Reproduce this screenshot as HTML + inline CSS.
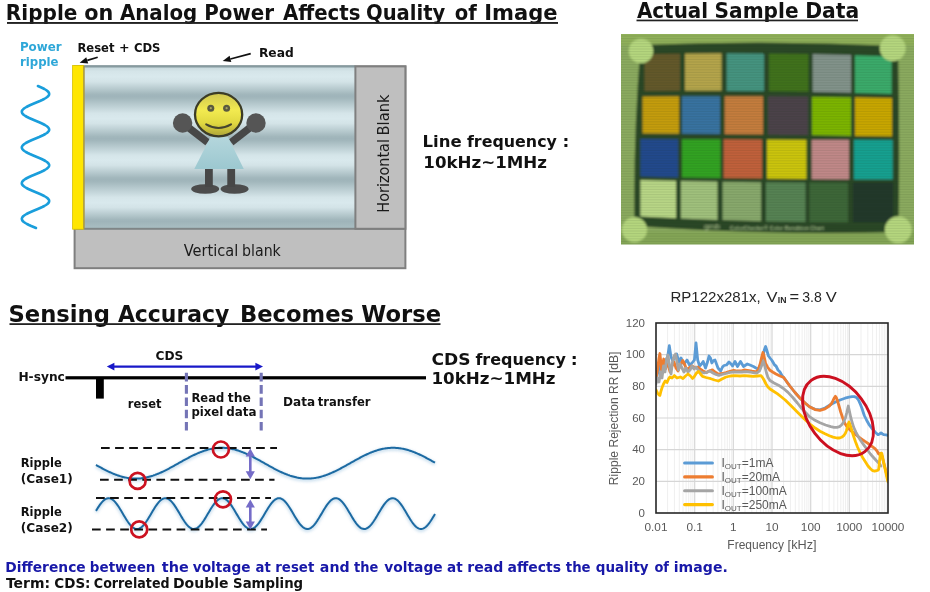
<!DOCTYPE html>
<html lang="en"><head><meta charset="utf-8"><title>Ripple on Analog Power Affects Quality of Image</title>
<style>
html,body{margin:0;padding:0;background:#fff;}
body{width:930px;height:592px;overflow:hidden;}
svg{display:block;}
</style></head><body>
<svg width="930" height="592" viewBox="0 0 930 592">
<defs>
<linearGradient id="stripes" x1="0" y1="0" x2="0" y2="1">
<stop offset="0.0000" stop-color="#c3d5d9"/>
<stop offset="0.0370" stop-color="#d5e5e9"/>
<stop offset="0.0679" stop-color="#d9e9ed"/>
<stop offset="0.0988" stop-color="#d3e3e7"/>
<stop offset="0.1753" stop-color="#a2b7bc"/>
<stop offset="0.1877" stop-color="#9fb4ba"/>
<stop offset="0.2000" stop-color="#a2b7bc"/>
<stop offset="0.2932" stop-color="#d5e5e9"/>
<stop offset="0.3241" stop-color="#d9e9ed"/>
<stop offset="0.3549" stop-color="#d3e3e7"/>
<stop offset="0.4352" stop-color="#a2b7bc"/>
<stop offset="0.4475" stop-color="#9fb4ba"/>
<stop offset="0.4599" stop-color="#a2b7bc"/>
<stop offset="0.5494" stop-color="#d5e5e9"/>
<stop offset="0.5802" stop-color="#d9e9ed"/>
<stop offset="0.6111" stop-color="#d3e3e7"/>
<stop offset="0.6883" stop-color="#a2b7bc"/>
<stop offset="0.7006" stop-color="#9fb4ba"/>
<stop offset="0.7130" stop-color="#a2b7bc"/>
<stop offset="0.8086" stop-color="#d5e5e9"/>
<stop offset="0.8395" stop-color="#d9e9ed"/>
<stop offset="0.8704" stop-color="#d3e3e7"/>
<stop offset="0.9444" stop-color="#a2b7bc"/>
<stop offset="0.9568" stop-color="#9fb4ba"/>
<stop offset="0.9691" stop-color="#a2b7bc"/>
<stop offset="1.0000" stop-color="#aabfc4"/>
</linearGradient>
<linearGradient id="face" x1="0" y1="0" x2="0" y2="1">
<stop offset="0" stop-color="#cfc750"/><stop offset="0.4" stop-color="#f2ea50"/><stop offset="0.7" stop-color="#e0d840"/><stop offset="1" stop-color="#aca438"/>
</linearGradient>
<linearGradient id="dress" x1="0" y1="0" x2="0" y2="1">
<stop offset="0" stop-color="#b4d6dc"/><stop offset="1" stop-color="#9cc8d0"/>
</linearGradient>
<filter id="glow" x="-10%" y="-50%" width="120%" height="200%"><feGaussianBlur stdDeviation="1.6"/></filter>
<filter id="pblur" x="-5%" y="-5%" width="110%" height="110%"><feGaussianBlur stdDeviation="0.85"/></filter>
<clipPath id="photoclip"><rect x="621" y="34" width="293" height="210.5"/></clipPath>
<clipPath id="plotclip"><rect x="656" y="323" width="232" height="190"/></clipPath>
</defs>

<g id="headings">
<text y="19.5" font-size="21.2" font-family="'DejaVu Sans','Liberation Sans',sans-serif" font-weight="bold" fill="#111" xml:space="preserve" ><tspan x="5.79" textLength="71.62" lengthAdjust="spacingAndGlyphs">Ripple</tspan> <tspan x="84.17" textLength="29.07" lengthAdjust="spacingAndGlyphs">on</tspan> <tspan x="119.90" textLength="77.41" lengthAdjust="spacingAndGlyphs">Analog</tspan> <tspan x="204.21" textLength="69.89" lengthAdjust="spacingAndGlyphs">Power</tspan> <tspan x="282.90" textLength="77.55" lengthAdjust="spacingAndGlyphs">Affects</tspan> <tspan x="366.02" textLength="79.32" lengthAdjust="spacingAndGlyphs">Quality</tspan> <tspan x="454.81" textLength="22.03" lengthAdjust="spacingAndGlyphs">of</tspan> <tspan x="484.17" textLength="73.39" lengthAdjust="spacingAndGlyphs">Image</tspan></text>
<rect x="7" y="22" width="551" height="1.9" fill="#222"/>
<text y="17.6" font-size="21.2" font-family="'DejaVu Sans','Liberation Sans',sans-serif" font-weight="bold" fill="#111" xml:space="preserve" ><tspan x="636.90" textLength="71.18" lengthAdjust="spacingAndGlyphs">Actual</tspan> <tspan x="714.59" textLength="83.99" lengthAdjust="spacingAndGlyphs">Sample</tspan> <tspan x="805.17" textLength="54.01" lengthAdjust="spacingAndGlyphs">Data</tspan></text>
<rect x="636.5" y="19.6" width="221.5" height="1.7" fill="#222"/>
<text y="321.8" font-size="23.8" font-family="'DejaVu Sans','Liberation Sans',sans-serif" font-weight="bold" fill="#111" xml:space="preserve" ><tspan x="8.41" textLength="101.54" lengthAdjust="spacingAndGlyphs">Sensing</tspan> <tspan x="117.89" textLength="111.53" lengthAdjust="spacingAndGlyphs">Accuracy</tspan> <tspan x="239.96" textLength="114.07" lengthAdjust="spacingAndGlyphs">Becomes</tspan> <tspan x="361.32" textLength="79.72" lengthAdjust="spacingAndGlyphs">Worse</tspan></text>
<rect x="9.5" y="323.2" width="431" height="1.8" fill="#222"/>
</g>
<g id="frame">
<rect x="74.6" y="66.4" width="330.8" height="201.8" fill="#bfbfbf" stroke="#7f7f7f" stroke-width="2"/>
<rect x="84" y="65.6" width="271.5" height="163" fill="url(#stripes)"/>
<rect x="84" y="65.3" width="271.5" height="2.2" fill="#869a9f"/>
<rect x="75.5" y="227.8" width="329" height="2" fill="#7f8587"/>
<rect x="355.4" y="66.4" width="50" height="162.4" fill="#bfbfbf" stroke="#7f7f7f" stroke-width="2"/>
<rect x="72.6" y="65.4" width="11" height="163.8" fill="#ffe600"/>
<rect x="72.6" y="65.4" width="11" height="163.8" fill="none" stroke="#d8c000" stroke-width="0.8"/>
<rect x="83" y="66" width="2" height="162.5" fill="#a89a48" opacity="0.75"/>
<text y="255.8" font-size="15.4" font-family="'DejaVu Sans','Liberation Sans',sans-serif" fill="#1a1a1a" xml:space="preserve" ><tspan x="183.65" textLength="54.61" lengthAdjust="spacingAndGlyphs">Vertical</tspan> <tspan x="242.02" textLength="38.82" lengthAdjust="spacingAndGlyphs">blank</tspan></text>
<text y="0" font-size="15.4" font-family="'DejaVu Sans','Liberation Sans',sans-serif" fill="#1a1a1a" xml:space="preserve" transform="translate(388.6,300) rotate(-90)" ><tspan x="87.36" textLength="73.55" lengthAdjust="spacingAndGlyphs">Horizontal</tspan> <tspan x="164.53" textLength="40.94" lengthAdjust="spacingAndGlyphs">Blank</tspan></text>
</g>
<g id="figure">
<ellipse cx="205.2" cy="189" rx="14" ry="4.8" fill="#4c4c4c"/>
<ellipse cx="234.6" cy="189" rx="14" ry="4.8" fill="#4c4c4c"/>
<rect x="205" y="168" width="7.8" height="19" fill="#474747"/>
<rect x="227.3" y="168" width="7.8" height="19" fill="#474747"/>
<line x1="182.6" y1="123" x2="207.6" y2="142.4" stroke="#474747" stroke-width="7.4"/>
<line x1="256" y1="123" x2="231.2" y2="142.4" stroke="#474747" stroke-width="7.4"/>
<circle cx="182.6" cy="123" r="9.7" fill="#555"/>
<circle cx="256" cy="123" r="9.7" fill="#555"/>
<polygon points="210.5,137 228,137 243.8,169 194.3,169" fill="url(#dress)"/>
<ellipse cx="218.6" cy="114.6" rx="23.6" ry="21.7" fill="url(#face)" stroke="#3c3c26" stroke-width="2.3"/>
<circle cx="210.8" cy="108.2" r="3.5" fill="#5a5a40"/>
<circle cx="226.6" cy="108.2" r="3.5" fill="#5a5a40"/>
<circle cx="210.8" cy="108.2" r="1.1" fill="#a8a460"/>
<circle cx="226.6" cy="108.2" r="1.1" fill="#a8a460"/>
<path d="M206.2 124.4 Q218.6 131.6 231 124.4" fill="none" stroke="#45452e" stroke-width="2.1" stroke-linecap="round"/>
</g>
<polyline points="37.9,86.0 40.2,87.0 42.4,88.0 44.4,89.0 46.1,90.0 47.4,91.0 48.4,92.0 49.0,93.0 49.2,94.0 49.0,95.0 48.3,96.0 47.2,97.0 45.8,98.0 44.1,99.0 42.1,100.0 39.9,101.0 37.5,102.0 35.1,103.0 32.7,104.0 30.4,105.0 28.3,106.0 26.4,107.0 24.7,108.0 23.4,109.0 22.5,110.0 21.9,111.0 21.8,112.0 22.1,113.0 22.8,114.0 23.9,115.0 25.4,116.0 27.2,117.0 29.2,118.0 31.5,119.0 33.8,120.0 36.2,121.0 38.6,122.0 40.9,123.0 43.0,124.0 44.9,125.0 46.5,126.0 47.8,127.0 48.6,128.0 49.1,129.0 49.2,130.0 48.8,131.0 48.0,132.0 46.9,133.0 45.3,134.0 43.5,135.0 41.4,136.0 39.2,137.0 36.8,138.0 34.4,139.0 32.0,140.0 29.8,141.0 27.7,142.0 25.8,143.0 24.3,144.0 23.1,145.0 22.3,146.0 21.8,147.0 21.9,148.0 22.3,149.0 23.1,150.0 24.4,151.0 25.9,152.0 27.8,153.0 29.9,154.0 32.2,155.0 34.5,156.0 36.9,157.0 39.3,158.0 41.6,159.0 43.6,160.0 45.4,161.0 46.9,162.0 48.1,163.0 48.8,164.0 49.2,165.0 49.1,166.0 48.6,167.0 47.7,168.0 46.4,169.0 44.8,170.0 42.9,171.0 40.8,172.0 38.5,173.0 36.1,174.0 33.7,175.0 31.3,176.0 29.1,177.0 27.1,178.0 25.3,179.0 23.9,180.0 22.8,181.0 22.1,182.0 21.8,183.0 21.9,184.0 22.5,185.0 23.5,186.0 24.8,187.0 26.4,188.0 28.4,189.0 30.6,190.0 32.9,191.0 35.3,192.0 37.7,193.0 40.0,194.0 42.2,195.0 44.2,196.0 45.9,197.0 47.3,198.0 48.3,199.0 49.0,200.0 49.2,201.0 49.0,202.0 48.4,203.0 47.4,204.0 46.0,205.0 44.3,206.0 42.3,207.0 40.1,208.0 37.8,209.0 35.4,210.0 33.0,211.0 30.7,212.0 28.5,213.0 26.5,214.0 24.9,215.0 23.5,216.0 22.5,217.0 22.0,218.0 21.8,219.0 22.1,220.0 22.7,221.0 23.8,222.0 25.3,223.0 27.0,224.0 29.0,225.0 31.2,226.0 33.6,227.0 36.0,228.0" fill="none" stroke="#1a9edb" stroke-width="2.6" stroke-linecap="round" stroke-linejoin="round"/>
<text y="51.2" font-size="12.3" font-family="'DejaVu Sans','Liberation Sans',sans-serif" font-weight="bold" fill="#2ea7d8" xml:space="preserve" ><tspan x="19.93" textLength="41.73" lengthAdjust="spacingAndGlyphs">Power</tspan></text>
<text y="66" font-size="12.3" font-family="'DejaVu Sans','Liberation Sans',sans-serif" font-weight="bold" fill="#2ea7d8" xml:space="preserve" ><tspan x="20.00" textLength="38.57" lengthAdjust="spacingAndGlyphs">ripple</tspan></text>
<text y="51.9" font-size="12" font-family="'DejaVu Sans','Liberation Sans',sans-serif" font-weight="bold" fill="#111" xml:space="preserve" ><tspan x="77.46" textLength="37.03" lengthAdjust="spacingAndGlyphs">Reset</tspan> <tspan x="119.07" textLength="10.60" lengthAdjust="spacingAndGlyphs">+</tspan> <tspan x="133.92" textLength="26.54" lengthAdjust="spacingAndGlyphs">CDS</tspan></text>
<text y="56.7" font-size="12" font-family="'DejaVu Sans','Liberation Sans',sans-serif" font-weight="bold" fill="#111" xml:space="preserve" ><tspan x="258.90" textLength="34.83" lengthAdjust="spacingAndGlyphs">Read</tspan></text>
<line x1="97.7" y1="57.3" x2="87.3" y2="60.4" stroke="#111" stroke-width="1.7"/>
<polygon points="79.6,62.7 86.3,57.3 88.2,63.6" fill="#111"/>
<line x1="250.7" y1="53.6" x2="230.4" y2="59.0" stroke="#111" stroke-width="1.7"/>
<polygon points="222.7,61.0 229.6,55.8 231.3,62.1" fill="#111"/>
<text y="146.6" font-size="16.5" font-family="'DejaVu Sans','Liberation Sans',sans-serif" font-weight="bold" fill="#111" xml:space="preserve" ><tspan x="422.61" textLength="39.11" lengthAdjust="spacingAndGlyphs">Line</tspan> <tspan x="466.98" textLength="89.92" lengthAdjust="spacingAndGlyphs">frequency</tspan> <tspan x="562.64" textLength="6.81" lengthAdjust="spacingAndGlyphs">:</tspan></text>
<text y="168" font-size="16.5" font-family="'DejaVu Sans','Liberation Sans',sans-serif" font-weight="bold" fill="#111" xml:space="preserve" ><tspan x="423.37" textLength="123.64" lengthAdjust="spacingAndGlyphs">10kHz~1MHz</tspan></text>
<text y="364.8" font-size="16.5" font-family="'DejaVu Sans','Liberation Sans',sans-serif" font-weight="bold" fill="#111" xml:space="preserve" ><tspan x="431.45" textLength="39.02" lengthAdjust="spacingAndGlyphs">CDS</tspan> <tspan x="475.38" textLength="90.52" lengthAdjust="spacingAndGlyphs">frequency</tspan> <tspan x="570.70" textLength="6.91" lengthAdjust="spacingAndGlyphs">:</tspan></text>
<text y="384.2" font-size="16.5" font-family="'DejaVu Sans','Liberation Sans',sans-serif" font-weight="bold" fill="#111" xml:space="preserve" ><tspan x="431.46" textLength="124.15" lengthAdjust="spacingAndGlyphs">10kHz~1MHz</tspan></text>
<g id="photo" clip-path="url(#photoclip)"><g filter="url(#pblur)">
<rect x="611" y="24" width="313" height="231" fill="#8baa5e"/>
<rect x="611" y="24" width="313" height="21" fill="#90b05a"/>
<rect x="611" y="232" width="313" height="23" fill="#84a556"/>
<path d="M640.5 45 Q770 39.5 898 46 Q900 140 898.5 232 Q770 235.5 634.5 226 Q633 140 640.5 45.5 Z" fill="#2b4725"/>
<polygon points="644.5,54.3 680.0,53.7 680.0,90.8 644.5,91.0" fill="#64582a"/>
<polygon points="685.0,53.6 721.6,53.3 721.6,90.8 685.0,90.8" fill="#b4a44c"/>
<polygon points="726.6,53.3 764.0,53.4 764.0,91.2 726.6,90.9" fill="#45937f"/>
<polygon points="769.0,53.5 808.5,54.0 808.5,91.8 769.0,91.2" fill="#3f711c"/>
<polygon points="812.6,54.1 851.0,55.0 851.0,92.8 812.6,91.9" fill="#82928a"/>
<polygon points="855.0,55.2 891.7,56.4 891.7,94.0 855.0,92.9" fill="#3aaa6a"/>
<polygon points="642.5,96.6 679.0,96.3 679.0,133.8 642.5,133.5" fill="#c49c10"/>
<polygon points="682.0,96.3 720.0,96.2 720.0,134.1 682.0,133.8" fill="#3872a0"/>
<polygon points="724.6,96.2 763.0,96.3 763.0,134.6 724.6,134.2" fill="#c47c3e"/>
<polygon points="768.0,96.3 808.0,96.6 808.0,135.2 768.0,134.7" fill="#4c434a"/>
<polygon points="812.0,96.7 851.0,97.2 851.0,135.9 812.0,135.3" fill="#7cb404"/>
<polygon points="855.0,97.3 892.0,98.0 892.0,136.6 855.0,135.9" fill="#c8a606"/>
<polygon points="640.4,139.0 678.0,139.2 678.0,177.4 640.4,176.6" fill="#224a8c"/>
<polygon points="682.0,139.2 720.5,139.3 720.5,178.1 682.0,177.4" fill="#33a222"/>
<polygon points="723.6,139.3 762.0,139.5 762.0,178.6 723.6,178.1" fill="#c0603a"/>
<polygon points="767.0,139.5 806.5,139.7 806.5,179.1 767.0,178.7" fill="#cbc408"/>
<polygon points="811.6,139.7 849.0,139.8 849.0,179.4 811.6,179.2" fill="#c08888"/>
<polygon points="854.0,139.8 892.7,140.0 892.7,179.6 854.0,179.5" fill="#14a090"/>
<polygon points="640.4,180.0 676.0,180.8 676.0,218.3 640.4,216.5" fill="#b8d586"/>
<polygon points="681.0,180.9 717.5,181.6 717.5,220.0 681.0,218.5" fill="#a0c07c"/>
<polygon points="722.6,181.7 761.0,182.2 761.0,221.3 722.6,220.1" fill="#88a86c"/>
<polygon points="766.0,182.2 805.5,182.6 805.5,222.1 766.0,221.4" fill="#578252"/>
<polygon points="809.5,182.6 848.0,182.7 848.0,222.5 809.5,222.2" fill="#3d6638"/>
<polygon points="853.0,182.8 893.0,182.7 893.0,222.5 853.0,222.6" fill="#22382b"/>
<circle cx="641" cy="51" r="12.3" fill="#b5d67e"/>
<circle cx="892.7" cy="48.3" r="13" fill="#b5d67e"/>
<circle cx="634.5" cy="229.7" r="12.6" fill="#b5d67e"/>
<circle cx="898.2" cy="229.7" r="13.4" fill="#b5d67e"/>
<text x="704" y="228.5" font-size="7" font-family="'Liberation Sans',sans-serif" fill="#a9c08c" textLength="16" lengthAdjust="spacingAndGlyphs">gmb</text>
<text x="730" y="229.8" font-size="4.6" font-family="'Liberation Sans',sans-serif" font-weight="bold" fill="#9db585" textLength="94" lengthAdjust="spacingAndGlyphs">ColorChecker® Color Rendition Chart</text>
</g>
<g stroke="#203820" stroke-width="0.6" opacity="0.16">
<line x1="621" y1="36" x2="914" y2="36"/>
<line x1="621" y1="38.6" x2="914" y2="38.6"/>
<line x1="621" y1="41.2" x2="914" y2="41.2"/>
<line x1="621" y1="43.800000000000004" x2="914" y2="43.800000000000004"/>
<line x1="621" y1="46.400000000000006" x2="914" y2="46.400000000000006"/>
<line x1="621" y1="49.00000000000001" x2="914" y2="49.00000000000001"/>
<line x1="621" y1="51.60000000000001" x2="914" y2="51.60000000000001"/>
<line x1="621" y1="54.20000000000001" x2="914" y2="54.20000000000001"/>
<line x1="621" y1="56.80000000000001" x2="914" y2="56.80000000000001"/>
<line x1="621" y1="59.40000000000001" x2="914" y2="59.40000000000001"/>
<line x1="621" y1="62.000000000000014" x2="914" y2="62.000000000000014"/>
<line x1="621" y1="64.60000000000001" x2="914" y2="64.60000000000001"/>
<line x1="621" y1="67.2" x2="914" y2="67.2"/>
<line x1="621" y1="69.8" x2="914" y2="69.8"/>
<line x1="621" y1="72.39999999999999" x2="914" y2="72.39999999999999"/>
<line x1="621" y1="74.99999999999999" x2="914" y2="74.99999999999999"/>
<line x1="621" y1="77.59999999999998" x2="914" y2="77.59999999999998"/>
<line x1="621" y1="80.19999999999997" x2="914" y2="80.19999999999997"/>
<line x1="621" y1="82.79999999999997" x2="914" y2="82.79999999999997"/>
<line x1="621" y1="85.39999999999996" x2="914" y2="85.39999999999996"/>
<line x1="621" y1="87.99999999999996" x2="914" y2="87.99999999999996"/>
<line x1="621" y1="90.59999999999995" x2="914" y2="90.59999999999995"/>
<line x1="621" y1="93.19999999999995" x2="914" y2="93.19999999999995"/>
<line x1="621" y1="95.79999999999994" x2="914" y2="95.79999999999994"/>
<line x1="621" y1="98.39999999999993" x2="914" y2="98.39999999999993"/>
<line x1="621" y1="100.99999999999993" x2="914" y2="100.99999999999993"/>
<line x1="621" y1="103.59999999999992" x2="914" y2="103.59999999999992"/>
<line x1="621" y1="106.19999999999992" x2="914" y2="106.19999999999992"/>
<line x1="621" y1="108.79999999999991" x2="914" y2="108.79999999999991"/>
<line x1="621" y1="111.3999999999999" x2="914" y2="111.3999999999999"/>
<line x1="621" y1="113.9999999999999" x2="914" y2="113.9999999999999"/>
<line x1="621" y1="116.5999999999999" x2="914" y2="116.5999999999999"/>
<line x1="621" y1="119.19999999999989" x2="914" y2="119.19999999999989"/>
<line x1="621" y1="121.79999999999988" x2="914" y2="121.79999999999988"/>
<line x1="621" y1="124.39999999999988" x2="914" y2="124.39999999999988"/>
<line x1="621" y1="126.99999999999987" x2="914" y2="126.99999999999987"/>
<line x1="621" y1="129.59999999999988" x2="914" y2="129.59999999999988"/>
<line x1="621" y1="132.19999999999987" x2="914" y2="132.19999999999987"/>
<line x1="621" y1="134.79999999999987" x2="914" y2="134.79999999999987"/>
<line x1="621" y1="137.39999999999986" x2="914" y2="137.39999999999986"/>
<line x1="621" y1="139.99999999999986" x2="914" y2="139.99999999999986"/>
<line x1="621" y1="142.59999999999985" x2="914" y2="142.59999999999985"/>
<line x1="621" y1="145.19999999999985" x2="914" y2="145.19999999999985"/>
<line x1="621" y1="147.79999999999984" x2="914" y2="147.79999999999984"/>
<line x1="621" y1="150.39999999999984" x2="914" y2="150.39999999999984"/>
<line x1="621" y1="152.99999999999983" x2="914" y2="152.99999999999983"/>
<line x1="621" y1="155.59999999999982" x2="914" y2="155.59999999999982"/>
<line x1="621" y1="158.19999999999982" x2="914" y2="158.19999999999982"/>
<line x1="621" y1="160.7999999999998" x2="914" y2="160.7999999999998"/>
<line x1="621" y1="163.3999999999998" x2="914" y2="163.3999999999998"/>
<line x1="621" y1="165.9999999999998" x2="914" y2="165.9999999999998"/>
<line x1="621" y1="168.5999999999998" x2="914" y2="168.5999999999998"/>
<line x1="621" y1="171.1999999999998" x2="914" y2="171.1999999999998"/>
<line x1="621" y1="173.79999999999978" x2="914" y2="173.79999999999978"/>
<line x1="621" y1="176.39999999999978" x2="914" y2="176.39999999999978"/>
<line x1="621" y1="178.99999999999977" x2="914" y2="178.99999999999977"/>
<line x1="621" y1="181.59999999999977" x2="914" y2="181.59999999999977"/>
<line x1="621" y1="184.19999999999976" x2="914" y2="184.19999999999976"/>
<line x1="621" y1="186.79999999999976" x2="914" y2="186.79999999999976"/>
<line x1="621" y1="189.39999999999975" x2="914" y2="189.39999999999975"/>
<line x1="621" y1="191.99999999999974" x2="914" y2="191.99999999999974"/>
<line x1="621" y1="194.59999999999974" x2="914" y2="194.59999999999974"/>
<line x1="621" y1="197.19999999999973" x2="914" y2="197.19999999999973"/>
<line x1="621" y1="199.79999999999973" x2="914" y2="199.79999999999973"/>
<line x1="621" y1="202.39999999999972" x2="914" y2="202.39999999999972"/>
<line x1="621" y1="204.99999999999972" x2="914" y2="204.99999999999972"/>
<line x1="621" y1="207.5999999999997" x2="914" y2="207.5999999999997"/>
<line x1="621" y1="210.1999999999997" x2="914" y2="210.1999999999997"/>
<line x1="621" y1="212.7999999999997" x2="914" y2="212.7999999999997"/>
<line x1="621" y1="215.3999999999997" x2="914" y2="215.3999999999997"/>
<line x1="621" y1="217.9999999999997" x2="914" y2="217.9999999999997"/>
<line x1="621" y1="220.59999999999968" x2="914" y2="220.59999999999968"/>
<line x1="621" y1="223.19999999999968" x2="914" y2="223.19999999999968"/>
<line x1="621" y1="225.79999999999967" x2="914" y2="225.79999999999967"/>
<line x1="621" y1="228.39999999999966" x2="914" y2="228.39999999999966"/>
<line x1="621" y1="230.99999999999966" x2="914" y2="230.99999999999966"/>
<line x1="621" y1="233.59999999999965" x2="914" y2="233.59999999999965"/>
<line x1="621" y1="236.19999999999965" x2="914" y2="236.19999999999965"/>
<line x1="621" y1="238.79999999999964" x2="914" y2="238.79999999999964"/>
<line x1="621" y1="241.39999999999964" x2="914" y2="241.39999999999964"/>
<line x1="621" y1="243.99999999999963" x2="914" y2="243.99999999999963"/>
</g>
</g>
<g id="timing">
<rect x="65.5" y="376.2" width="360.5" height="3.2" fill="#000"/>
<rect x="96" y="378" width="7.8" height="20.6" fill="#000"/>
<text y="380.6" font-size="12" font-family="'DejaVu Sans','Liberation Sans',sans-serif" font-weight="bold" fill="#111" xml:space="preserve" ><tspan x="18.40" textLength="46.44" lengthAdjust="spacingAndGlyphs">H-sync</tspan></text>
<text y="359.6" font-size="12" font-family="'DejaVu Sans','Liberation Sans',sans-serif" font-weight="bold" fill="#111" xml:space="preserve" ><tspan x="155.59" textLength="27.81" lengthAdjust="spacingAndGlyphs">CDS</tspan></text>
<text y="407.5" font-size="12" font-family="'DejaVu Sans','Liberation Sans',sans-serif" font-weight="bold" fill="#111" xml:space="preserve" ><tspan x="127.82" textLength="33.64" lengthAdjust="spacingAndGlyphs">reset</tspan></text>
<text y="401.8" font-size="12" font-family="'DejaVu Sans','Liberation Sans',sans-serif" font-weight="bold" fill="#111" xml:space="preserve" ><tspan x="191.46" textLength="32.81" lengthAdjust="spacingAndGlyphs">Read</tspan> <tspan x="227.81" textLength="23.08" lengthAdjust="spacingAndGlyphs">the</tspan></text>
<text y="416.2" font-size="12" font-family="'DejaVu Sans','Liberation Sans',sans-serif" font-weight="bold" fill="#111" xml:space="preserve" ><tspan x="191.51" textLength="31.78" lengthAdjust="spacingAndGlyphs">pixel</tspan> <tspan x="226.16" textLength="30.38" lengthAdjust="spacingAndGlyphs">data</tspan></text>
<text y="405.8" font-size="12" font-family="'DejaVu Sans','Liberation Sans',sans-serif" font-weight="bold" fill="#111" xml:space="preserve" ><tspan x="283.12" textLength="32.02" lengthAdjust="spacingAndGlyphs">Data</tspan> <tspan x="317.83" textLength="52.73" lengthAdjust="spacingAndGlyphs">transfer</tspan></text>
<line x1="112" y1="366.6" x2="257" y2="366.6" stroke="#1818c8" stroke-width="2.1"/>
<polygon points="106.8,366.6 114.4,362.8 114.4,370.4" fill="#1818c8"/>
<polygon points="263,366.6 255.4,362.8 255.4,370.4" fill="#1818c8"/>
<line x1="186.4" y1="372.8" x2="186.4" y2="430.4" stroke="#7474b6" stroke-width="3.1" stroke-dasharray="8.6 3.7"/>
<line x1="261.2" y1="372.8" x2="261.2" y2="430.4" stroke="#7474b6" stroke-width="3.1" stroke-dasharray="8.6 3.7"/>
<polyline points="96.0,464.96 97.0,465.52 98.0,466.07 99.0,466.63 100.0,467.17 101.0,467.72 102.0,468.25 103.0,468.78 104.0,469.30 105.0,469.82 106.0,470.32 107.0,470.82 108.0,471.30 109.0,471.78 110.0,472.24 111.0,472.69 112.0,473.13 113.0,473.55 114.0,473.96 115.0,474.36 116.0,474.74 117.0,475.11 118.0,475.46 119.0,475.79 120.0,476.11 121.0,476.41 122.0,476.69 123.0,476.95 124.0,477.19 125.0,477.42 126.0,477.63 127.0,477.82 128.0,477.98 129.0,478.13 130.0,478.26 131.0,478.37 132.0,478.45 133.0,478.52 134.0,478.57 135.0,478.59 136.0,478.60 137.0,478.58 138.0,478.55 139.0,478.49 140.0,478.41 141.0,478.32 142.0,478.20 143.0,478.06 144.0,477.90 145.0,477.72 146.0,477.53 147.0,477.31 148.0,477.07 149.0,476.82 150.0,476.55 151.0,476.26 152.0,475.95 153.0,475.63 154.0,475.28 155.0,474.93 156.0,474.55 157.0,474.16 158.0,473.76 159.0,473.34 160.0,472.91 161.0,472.47 162.0,472.01 163.0,471.54 164.0,471.06 165.0,470.57 166.0,470.07 167.0,469.56 168.0,469.04 169.0,468.52 170.0,467.99 171.0,467.45 172.0,466.90 173.0,466.35 174.0,465.80 175.0,465.24 176.0,464.68 177.0,464.12 178.0,463.55 179.0,462.99 180.0,462.42 181.0,461.86 182.0,461.30 183.0,460.74 184.0,460.19 185.0,459.64 186.0,459.09 187.0,458.55 188.0,458.01 189.0,457.49 190.0,456.97 191.0,456.45 192.0,455.95 193.0,455.46 194.0,454.98 195.0,454.51 196.0,454.05 197.0,453.60 198.0,453.16 199.0,452.74 200.0,452.34 201.0,451.94 202.0,451.57 203.0,451.20 204.0,450.86 205.0,450.53 206.0,450.22 207.0,449.92 208.0,449.65 209.0,449.39 210.0,449.15 211.0,448.93 212.0,448.72 213.0,448.54 214.0,448.38 215.0,448.23 216.0,448.11 217.0,448.01 218.0,447.93 219.0,447.86 220.0,447.82 221.0,447.80 222.0,447.80 223.0,447.82 224.0,447.86 225.0,447.93 226.0,448.01 227.0,448.11 228.0,448.23 229.0,448.38 230.0,448.54 231.0,448.72 232.0,448.93 233.0,449.15 234.0,449.39 235.0,449.65 236.0,449.92 237.0,450.22 238.0,450.53 239.0,450.86 240.0,451.20 241.0,451.57 242.0,451.94 243.0,452.34 244.0,452.74 245.0,453.16 246.0,453.60 247.0,454.05 248.0,454.51 249.0,454.98 250.0,455.46 251.0,455.95 252.0,456.45 253.0,456.97 254.0,457.49 255.0,458.01 256.0,458.55 257.0,459.09 258.0,459.64 259.0,460.19 260.0,460.74 261.0,461.30 262.0,461.86 263.0,462.42 264.0,462.99 265.0,463.55 266.0,464.12 267.0,464.68 268.0,465.24 269.0,465.80 270.0,466.35 271.0,466.90 272.0,467.45 273.0,467.99 274.0,468.52 275.0,469.04 276.0,469.56 277.0,470.07 278.0,470.57 279.0,471.06 280.0,471.54 281.0,472.01 282.0,472.47 283.0,472.91 284.0,473.34 285.0,473.76 286.0,474.16 287.0,474.55 288.0,474.93 289.0,475.28 290.0,475.63 291.0,475.95 292.0,476.26 293.0,476.55 294.0,476.82 295.0,477.07 296.0,477.31 297.0,477.53 298.0,477.72 299.0,477.90 300.0,478.06 301.0,478.20 302.0,478.32 303.0,478.41 304.0,478.49 305.0,478.55 306.0,478.58 307.0,478.60 308.0,478.59 309.0,478.57 310.0,478.52 311.0,478.45 312.0,478.37 313.0,478.26 314.0,478.13 315.0,477.98 316.0,477.82 317.0,477.63 318.0,477.42 319.0,477.19 320.0,476.95 321.0,476.69 322.0,476.41 323.0,476.11 324.0,475.79 325.0,475.46 326.0,475.11 327.0,474.74 328.0,474.36 329.0,473.96 330.0,473.55 331.0,473.13 332.0,472.69 333.0,472.24 334.0,471.78 335.0,471.30 336.0,470.82 337.0,470.32 338.0,469.82 339.0,469.30 340.0,468.78 341.0,468.25 342.0,467.72 343.0,467.17 344.0,466.63 345.0,466.07 346.0,465.52 347.0,464.96 348.0,464.40 349.0,463.83 350.0,463.27 351.0,462.71 352.0,462.14 353.0,461.58 354.0,461.02 355.0,460.46 356.0,459.91 357.0,459.36 358.0,458.82 359.0,458.28 360.0,457.75 361.0,457.23 362.0,456.71 363.0,456.20 364.0,455.70 365.0,455.22 366.0,454.74 367.0,454.27 368.0,453.82 369.0,453.38 370.0,452.95 371.0,452.54 372.0,452.14 373.0,451.75 374.0,451.38 375.0,451.03 376.0,450.69 377.0,450.37 378.0,450.07 379.0,449.78 380.0,449.51 381.0,449.26 382.0,449.03 383.0,448.82 384.0,448.63 385.0,448.46 386.0,448.30 387.0,448.17 388.0,448.06 389.0,447.97 390.0,447.89 391.0,447.84 392.0,447.81 393.0,447.80 394.0,447.81 395.0,447.84 396.0,447.89 397.0,447.97 398.0,448.06 399.0,448.17 400.0,448.30 401.0,448.46 402.0,448.63 403.0,448.82 404.0,449.03 405.0,449.26 406.0,449.51 407.0,449.78 408.0,450.07 409.0,450.37 410.0,450.69 411.0,451.03 412.0,451.38 413.0,451.75 414.0,452.14 415.0,452.54 416.0,452.95 417.0,453.38 418.0,453.82 419.0,454.27 420.0,454.74 421.0,455.22 422.0,455.70 423.0,456.20 424.0,456.71 425.0,457.23 426.0,457.75 427.0,458.28 428.0,458.82 429.0,459.36 430.0,459.91 431.0,460.46 432.0,461.02 433.0,461.58 434.0,462.14 435.0,462.71" fill="none" stroke="#9ec4e0" stroke-width="3.4" opacity="0.55" transform="translate(0,1.2)" filter="url(#glow)"/>
<polyline points="96.0,464.96 97.0,465.52 98.0,466.07 99.0,466.63 100.0,467.17 101.0,467.72 102.0,468.25 103.0,468.78 104.0,469.30 105.0,469.82 106.0,470.32 107.0,470.82 108.0,471.30 109.0,471.78 110.0,472.24 111.0,472.69 112.0,473.13 113.0,473.55 114.0,473.96 115.0,474.36 116.0,474.74 117.0,475.11 118.0,475.46 119.0,475.79 120.0,476.11 121.0,476.41 122.0,476.69 123.0,476.95 124.0,477.19 125.0,477.42 126.0,477.63 127.0,477.82 128.0,477.98 129.0,478.13 130.0,478.26 131.0,478.37 132.0,478.45 133.0,478.52 134.0,478.57 135.0,478.59 136.0,478.60 137.0,478.58 138.0,478.55 139.0,478.49 140.0,478.41 141.0,478.32 142.0,478.20 143.0,478.06 144.0,477.90 145.0,477.72 146.0,477.53 147.0,477.31 148.0,477.07 149.0,476.82 150.0,476.55 151.0,476.26 152.0,475.95 153.0,475.63 154.0,475.28 155.0,474.93 156.0,474.55 157.0,474.16 158.0,473.76 159.0,473.34 160.0,472.91 161.0,472.47 162.0,472.01 163.0,471.54 164.0,471.06 165.0,470.57 166.0,470.07 167.0,469.56 168.0,469.04 169.0,468.52 170.0,467.99 171.0,467.45 172.0,466.90 173.0,466.35 174.0,465.80 175.0,465.24 176.0,464.68 177.0,464.12 178.0,463.55 179.0,462.99 180.0,462.42 181.0,461.86 182.0,461.30 183.0,460.74 184.0,460.19 185.0,459.64 186.0,459.09 187.0,458.55 188.0,458.01 189.0,457.49 190.0,456.97 191.0,456.45 192.0,455.95 193.0,455.46 194.0,454.98 195.0,454.51 196.0,454.05 197.0,453.60 198.0,453.16 199.0,452.74 200.0,452.34 201.0,451.94 202.0,451.57 203.0,451.20 204.0,450.86 205.0,450.53 206.0,450.22 207.0,449.92 208.0,449.65 209.0,449.39 210.0,449.15 211.0,448.93 212.0,448.72 213.0,448.54 214.0,448.38 215.0,448.23 216.0,448.11 217.0,448.01 218.0,447.93 219.0,447.86 220.0,447.82 221.0,447.80 222.0,447.80 223.0,447.82 224.0,447.86 225.0,447.93 226.0,448.01 227.0,448.11 228.0,448.23 229.0,448.38 230.0,448.54 231.0,448.72 232.0,448.93 233.0,449.15 234.0,449.39 235.0,449.65 236.0,449.92 237.0,450.22 238.0,450.53 239.0,450.86 240.0,451.20 241.0,451.57 242.0,451.94 243.0,452.34 244.0,452.74 245.0,453.16 246.0,453.60 247.0,454.05 248.0,454.51 249.0,454.98 250.0,455.46 251.0,455.95 252.0,456.45 253.0,456.97 254.0,457.49 255.0,458.01 256.0,458.55 257.0,459.09 258.0,459.64 259.0,460.19 260.0,460.74 261.0,461.30 262.0,461.86 263.0,462.42 264.0,462.99 265.0,463.55 266.0,464.12 267.0,464.68 268.0,465.24 269.0,465.80 270.0,466.35 271.0,466.90 272.0,467.45 273.0,467.99 274.0,468.52 275.0,469.04 276.0,469.56 277.0,470.07 278.0,470.57 279.0,471.06 280.0,471.54 281.0,472.01 282.0,472.47 283.0,472.91 284.0,473.34 285.0,473.76 286.0,474.16 287.0,474.55 288.0,474.93 289.0,475.28 290.0,475.63 291.0,475.95 292.0,476.26 293.0,476.55 294.0,476.82 295.0,477.07 296.0,477.31 297.0,477.53 298.0,477.72 299.0,477.90 300.0,478.06 301.0,478.20 302.0,478.32 303.0,478.41 304.0,478.49 305.0,478.55 306.0,478.58 307.0,478.60 308.0,478.59 309.0,478.57 310.0,478.52 311.0,478.45 312.0,478.37 313.0,478.26 314.0,478.13 315.0,477.98 316.0,477.82 317.0,477.63 318.0,477.42 319.0,477.19 320.0,476.95 321.0,476.69 322.0,476.41 323.0,476.11 324.0,475.79 325.0,475.46 326.0,475.11 327.0,474.74 328.0,474.36 329.0,473.96 330.0,473.55 331.0,473.13 332.0,472.69 333.0,472.24 334.0,471.78 335.0,471.30 336.0,470.82 337.0,470.32 338.0,469.82 339.0,469.30 340.0,468.78 341.0,468.25 342.0,467.72 343.0,467.17 344.0,466.63 345.0,466.07 346.0,465.52 347.0,464.96 348.0,464.40 349.0,463.83 350.0,463.27 351.0,462.71 352.0,462.14 353.0,461.58 354.0,461.02 355.0,460.46 356.0,459.91 357.0,459.36 358.0,458.82 359.0,458.28 360.0,457.75 361.0,457.23 362.0,456.71 363.0,456.20 364.0,455.70 365.0,455.22 366.0,454.74 367.0,454.27 368.0,453.82 369.0,453.38 370.0,452.95 371.0,452.54 372.0,452.14 373.0,451.75 374.0,451.38 375.0,451.03 376.0,450.69 377.0,450.37 378.0,450.07 379.0,449.78 380.0,449.51 381.0,449.26 382.0,449.03 383.0,448.82 384.0,448.63 385.0,448.46 386.0,448.30 387.0,448.17 388.0,448.06 389.0,447.97 390.0,447.89 391.0,447.84 392.0,447.81 393.0,447.80 394.0,447.81 395.0,447.84 396.0,447.89 397.0,447.97 398.0,448.06 399.0,448.17 400.0,448.30 401.0,448.46 402.0,448.63 403.0,448.82 404.0,449.03 405.0,449.26 406.0,449.51 407.0,449.78 408.0,450.07 409.0,450.37 410.0,450.69 411.0,451.03 412.0,451.38 413.0,451.75 414.0,452.14 415.0,452.54 416.0,452.95 417.0,453.38 418.0,453.82 419.0,454.27 420.0,454.74 421.0,455.22 422.0,455.70 423.0,456.20 424.0,456.71 425.0,457.23 426.0,457.75 427.0,458.28 428.0,458.82 429.0,459.36 430.0,459.91 431.0,460.46 432.0,461.02 433.0,461.58 434.0,462.14 435.0,462.71" fill="none" stroke="#1c6aa2" stroke-width="2" stroke-linejoin="round"/>
<polyline points="96.0,510.89 97.0,509.23 98.0,507.63 99.0,506.10 100.0,504.66 101.0,503.33 102.0,502.13 103.0,501.06 104.0,500.15 105.0,499.41 106.0,498.83 107.0,498.44 108.0,498.23 109.0,498.22 110.0,498.38 111.0,498.74 112.0,499.28 113.0,499.99 114.0,500.87 115.0,501.90 116.0,503.08 117.0,504.38 118.0,505.80 119.0,507.32 120.0,508.91 121.0,510.55 122.0,512.24 123.0,513.94 124.0,515.64 125.0,517.31 126.0,518.94 127.0,520.50 128.0,521.98 129.0,523.35 130.0,524.61 131.0,525.73 132.0,526.70 133.0,527.52 134.0,528.16 135.0,528.62 136.0,528.91 137.0,529.00 138.0,528.91 139.0,528.62 140.0,528.16 141.0,527.52 142.0,526.70 143.0,525.73 144.0,524.61 145.0,523.35 146.0,521.98 147.0,520.50 148.0,518.94 149.0,517.31 150.0,515.64 151.0,513.94 152.0,512.24 153.0,510.55 154.0,508.91 155.0,507.32 156.0,505.80 157.0,504.38 158.0,503.08 159.0,501.90 160.0,500.87 161.0,499.99 162.0,499.28 163.0,498.74 164.0,498.38 165.0,498.22 166.0,498.23 167.0,498.44 168.0,498.83 169.0,499.41 170.0,500.15 171.0,501.06 172.0,502.13 173.0,503.33 174.0,504.66 175.0,506.10 176.0,507.63 177.0,509.23 178.0,510.89 179.0,512.58 180.0,514.28 181.0,515.98 182.0,517.64 183.0,519.26 184.0,520.80 185.0,522.26 186.0,523.61 187.0,524.84 188.0,525.94 189.0,526.88 190.0,527.66 191.0,528.27 192.0,528.70 193.0,528.94 194.0,529.00 195.0,528.86 196.0,528.55 197.0,528.05 198.0,527.37 199.0,526.52 200.0,525.52 201.0,524.37 202.0,523.09 203.0,521.69 204.0,520.19 205.0,518.62 206.0,516.98 207.0,515.30 208.0,513.60 209.0,511.90 210.0,510.22 211.0,508.58 212.0,507.01 213.0,505.51 214.0,504.11 215.0,502.83 216.0,501.68 217.0,500.68 218.0,499.83 219.0,499.15 220.0,498.65 221.0,498.34 222.0,498.20 223.0,498.26 224.0,498.50 225.0,498.93 226.0,499.54 227.0,500.32 228.0,501.26 229.0,502.36 230.0,503.59 231.0,504.94 232.0,506.40 233.0,507.94 234.0,509.56 235.0,511.22 236.0,512.92 237.0,514.62 238.0,516.31 239.0,517.97 240.0,519.57 241.0,521.10 242.0,522.54 243.0,523.87 244.0,525.07 245.0,526.14 246.0,527.05 247.0,527.79 248.0,528.37 249.0,528.76 250.0,528.97 251.0,528.98 252.0,528.82 253.0,528.46 254.0,527.92 255.0,527.21 256.0,526.33 257.0,525.30 258.0,524.12 259.0,522.82 260.0,521.40 261.0,519.88 262.0,518.29 263.0,516.65 264.0,514.96 265.0,513.26 266.0,511.56 267.0,509.89 268.0,508.26 269.0,506.70 270.0,505.22 271.0,503.85 272.0,502.59 273.0,501.47 274.0,500.50 275.0,499.68 276.0,499.04 277.0,498.58 278.0,498.29 279.0,498.20 280.0,498.29 281.0,498.58 282.0,499.04 283.0,499.68 284.0,500.50 285.0,501.47 286.0,502.59 287.0,503.85 288.0,505.22 289.0,506.70 290.0,508.26 291.0,509.89 292.0,511.56 293.0,513.26 294.0,514.96 295.0,516.65 296.0,518.29 297.0,519.88 298.0,521.40 299.0,522.82 300.0,524.12 301.0,525.30 302.0,526.33 303.0,527.21 304.0,527.92 305.0,528.46 306.0,528.82 307.0,528.98 308.0,528.97 309.0,528.76 310.0,528.37 311.0,527.79 312.0,527.05 313.0,526.14 314.0,525.07 315.0,523.87 316.0,522.54 317.0,521.10 318.0,519.57 319.0,517.97 320.0,516.31 321.0,514.62 322.0,512.92 323.0,511.22 324.0,509.56 325.0,507.94 326.0,506.40 327.0,504.94 328.0,503.59 329.0,502.36 330.0,501.26 331.0,500.32 332.0,499.54 333.0,498.93 334.0,498.50 335.0,498.26 336.0,498.20 337.0,498.34 338.0,498.65 339.0,499.15 340.0,499.83 341.0,500.68 342.0,501.68 343.0,502.83 344.0,504.11 345.0,505.51 346.0,507.01 347.0,508.58 348.0,510.22 349.0,511.90 350.0,513.60 351.0,515.30 352.0,516.98 353.0,518.62 354.0,520.19 355.0,521.69 356.0,523.09 357.0,524.37 358.0,525.52 359.0,526.52 360.0,527.37 361.0,528.05 362.0,528.55 363.0,528.86 364.0,529.00 365.0,528.94 366.0,528.70 367.0,528.27 368.0,527.66 369.0,526.88 370.0,525.94 371.0,524.84 372.0,523.61 373.0,522.26 374.0,520.80 375.0,519.26 376.0,517.64 377.0,515.98 378.0,514.28 379.0,512.58 380.0,510.89 381.0,509.23 382.0,507.63 383.0,506.10 384.0,504.66 385.0,503.33 386.0,502.13 387.0,501.06 388.0,500.15 389.0,499.41 390.0,498.83 391.0,498.44 392.0,498.23 393.0,498.22 394.0,498.38 395.0,498.74 396.0,499.28 397.0,499.99 398.0,500.87 399.0,501.90 400.0,503.08 401.0,504.38 402.0,505.80 403.0,507.32 404.0,508.91 405.0,510.55 406.0,512.24 407.0,513.94 408.0,515.64 409.0,517.31 410.0,518.94 411.0,520.50 412.0,521.98 413.0,523.35 414.0,524.61 415.0,525.73 416.0,526.70 417.0,527.52 418.0,528.16 419.0,528.62 420.0,528.91 421.0,529.00 422.0,528.91 423.0,528.62 424.0,528.16 425.0,527.52 426.0,526.70 427.0,525.73 428.0,524.61 429.0,523.35 430.0,521.98 431.0,520.50 432.0,518.94 433.0,517.31 434.0,515.64 435.0,513.94" fill="none" stroke="#9ec4e0" stroke-width="3.4" opacity="0.55" transform="translate(0,1.2)" filter="url(#glow)"/>
<polyline points="96.0,510.89 97.0,509.23 98.0,507.63 99.0,506.10 100.0,504.66 101.0,503.33 102.0,502.13 103.0,501.06 104.0,500.15 105.0,499.41 106.0,498.83 107.0,498.44 108.0,498.23 109.0,498.22 110.0,498.38 111.0,498.74 112.0,499.28 113.0,499.99 114.0,500.87 115.0,501.90 116.0,503.08 117.0,504.38 118.0,505.80 119.0,507.32 120.0,508.91 121.0,510.55 122.0,512.24 123.0,513.94 124.0,515.64 125.0,517.31 126.0,518.94 127.0,520.50 128.0,521.98 129.0,523.35 130.0,524.61 131.0,525.73 132.0,526.70 133.0,527.52 134.0,528.16 135.0,528.62 136.0,528.91 137.0,529.00 138.0,528.91 139.0,528.62 140.0,528.16 141.0,527.52 142.0,526.70 143.0,525.73 144.0,524.61 145.0,523.35 146.0,521.98 147.0,520.50 148.0,518.94 149.0,517.31 150.0,515.64 151.0,513.94 152.0,512.24 153.0,510.55 154.0,508.91 155.0,507.32 156.0,505.80 157.0,504.38 158.0,503.08 159.0,501.90 160.0,500.87 161.0,499.99 162.0,499.28 163.0,498.74 164.0,498.38 165.0,498.22 166.0,498.23 167.0,498.44 168.0,498.83 169.0,499.41 170.0,500.15 171.0,501.06 172.0,502.13 173.0,503.33 174.0,504.66 175.0,506.10 176.0,507.63 177.0,509.23 178.0,510.89 179.0,512.58 180.0,514.28 181.0,515.98 182.0,517.64 183.0,519.26 184.0,520.80 185.0,522.26 186.0,523.61 187.0,524.84 188.0,525.94 189.0,526.88 190.0,527.66 191.0,528.27 192.0,528.70 193.0,528.94 194.0,529.00 195.0,528.86 196.0,528.55 197.0,528.05 198.0,527.37 199.0,526.52 200.0,525.52 201.0,524.37 202.0,523.09 203.0,521.69 204.0,520.19 205.0,518.62 206.0,516.98 207.0,515.30 208.0,513.60 209.0,511.90 210.0,510.22 211.0,508.58 212.0,507.01 213.0,505.51 214.0,504.11 215.0,502.83 216.0,501.68 217.0,500.68 218.0,499.83 219.0,499.15 220.0,498.65 221.0,498.34 222.0,498.20 223.0,498.26 224.0,498.50 225.0,498.93 226.0,499.54 227.0,500.32 228.0,501.26 229.0,502.36 230.0,503.59 231.0,504.94 232.0,506.40 233.0,507.94 234.0,509.56 235.0,511.22 236.0,512.92 237.0,514.62 238.0,516.31 239.0,517.97 240.0,519.57 241.0,521.10 242.0,522.54 243.0,523.87 244.0,525.07 245.0,526.14 246.0,527.05 247.0,527.79 248.0,528.37 249.0,528.76 250.0,528.97 251.0,528.98 252.0,528.82 253.0,528.46 254.0,527.92 255.0,527.21 256.0,526.33 257.0,525.30 258.0,524.12 259.0,522.82 260.0,521.40 261.0,519.88 262.0,518.29 263.0,516.65 264.0,514.96 265.0,513.26 266.0,511.56 267.0,509.89 268.0,508.26 269.0,506.70 270.0,505.22 271.0,503.85 272.0,502.59 273.0,501.47 274.0,500.50 275.0,499.68 276.0,499.04 277.0,498.58 278.0,498.29 279.0,498.20 280.0,498.29 281.0,498.58 282.0,499.04 283.0,499.68 284.0,500.50 285.0,501.47 286.0,502.59 287.0,503.85 288.0,505.22 289.0,506.70 290.0,508.26 291.0,509.89 292.0,511.56 293.0,513.26 294.0,514.96 295.0,516.65 296.0,518.29 297.0,519.88 298.0,521.40 299.0,522.82 300.0,524.12 301.0,525.30 302.0,526.33 303.0,527.21 304.0,527.92 305.0,528.46 306.0,528.82 307.0,528.98 308.0,528.97 309.0,528.76 310.0,528.37 311.0,527.79 312.0,527.05 313.0,526.14 314.0,525.07 315.0,523.87 316.0,522.54 317.0,521.10 318.0,519.57 319.0,517.97 320.0,516.31 321.0,514.62 322.0,512.92 323.0,511.22 324.0,509.56 325.0,507.94 326.0,506.40 327.0,504.94 328.0,503.59 329.0,502.36 330.0,501.26 331.0,500.32 332.0,499.54 333.0,498.93 334.0,498.50 335.0,498.26 336.0,498.20 337.0,498.34 338.0,498.65 339.0,499.15 340.0,499.83 341.0,500.68 342.0,501.68 343.0,502.83 344.0,504.11 345.0,505.51 346.0,507.01 347.0,508.58 348.0,510.22 349.0,511.90 350.0,513.60 351.0,515.30 352.0,516.98 353.0,518.62 354.0,520.19 355.0,521.69 356.0,523.09 357.0,524.37 358.0,525.52 359.0,526.52 360.0,527.37 361.0,528.05 362.0,528.55 363.0,528.86 364.0,529.00 365.0,528.94 366.0,528.70 367.0,528.27 368.0,527.66 369.0,526.88 370.0,525.94 371.0,524.84 372.0,523.61 373.0,522.26 374.0,520.80 375.0,519.26 376.0,517.64 377.0,515.98 378.0,514.28 379.0,512.58 380.0,510.89 381.0,509.23 382.0,507.63 383.0,506.10 384.0,504.66 385.0,503.33 386.0,502.13 387.0,501.06 388.0,500.15 389.0,499.41 390.0,498.83 391.0,498.44 392.0,498.23 393.0,498.22 394.0,498.38 395.0,498.74 396.0,499.28 397.0,499.99 398.0,500.87 399.0,501.90 400.0,503.08 401.0,504.38 402.0,505.80 403.0,507.32 404.0,508.91 405.0,510.55 406.0,512.24 407.0,513.94 408.0,515.64 409.0,517.31 410.0,518.94 411.0,520.50 412.0,521.98 413.0,523.35 414.0,524.61 415.0,525.73 416.0,526.70 417.0,527.52 418.0,528.16 419.0,528.62 420.0,528.91 421.0,529.00 422.0,528.91 423.0,528.62 424.0,528.16 425.0,527.52 426.0,526.70 427.0,525.73 428.0,524.61 429.0,523.35 430.0,521.98 431.0,520.50 432.0,518.94 433.0,517.31 434.0,515.64 435.0,513.94" fill="none" stroke="#1c6aa2" stroke-width="2" stroke-linejoin="round"/>
<line x1="101" y1="448" x2="277" y2="448" stroke="#111" stroke-width="2" stroke-dasharray="8.7 5.4"/>
<line x1="100" y1="479.8" x2="274.5" y2="479.8" stroke="#111" stroke-width="2" stroke-dasharray="8.7 5.4"/>
<line x1="96" y1="498" x2="271" y2="498" stroke="#111" stroke-width="2" stroke-dasharray="8.7 5.4"/>
<line x1="92" y1="529.5" x2="267" y2="529.5" stroke="#111" stroke-width="2" stroke-dasharray="8.7 5.4"/>
<circle cx="137.6" cy="480.9" r="8" fill="none" stroke="#cc1220" stroke-width="2.7"/>
<circle cx="220.9" cy="449.5" r="8" fill="none" stroke="#cc1220" stroke-width="2.7"/>
<circle cx="139.2" cy="529.4" r="8" fill="none" stroke="#cc1220" stroke-width="2.7"/>
<circle cx="223" cy="499.3" r="8" fill="none" stroke="#cc1220" stroke-width="2.7"/>
<line x1="250.3" y1="453.5" x2="250.3" y2="474.3" stroke="#756cc8" stroke-width="2.6"/>
<polygon points="250.3,448.5 245.70000000000002,456.5 254.9,456.5" fill="#756cc8"/>
<polygon points="250.3,479.3 245.70000000000002,471.3 254.9,471.3" fill="#756cc8"/>
<line x1="250.3" y1="504.5" x2="250.3" y2="524.5" stroke="#756cc8" stroke-width="2.6"/>
<polygon points="250.3,499.5 245.70000000000002,507.5 254.9,507.5" fill="#756cc8"/>
<polygon points="250.3,529.5 245.70000000000002,521.5 254.9,521.5" fill="#756cc8"/>
<text y="467" font-size="12" font-family="'DejaVu Sans','Liberation Sans',sans-serif" font-weight="bold" fill="#111" xml:space="preserve" ><tspan x="20.76" textLength="41.02" lengthAdjust="spacingAndGlyphs">Ripple</tspan></text>
<text y="482.5" font-size="12" font-family="'DejaVu Sans','Liberation Sans',sans-serif" font-weight="bold" fill="#111" xml:space="preserve" ><tspan x="20.77" textLength="52.09" lengthAdjust="spacingAndGlyphs">(Case1)</tspan></text>
<text y="516.2" font-size="12" font-family="'DejaVu Sans','Liberation Sans',sans-serif" font-weight="bold" fill="#111" xml:space="preserve" ><tspan x="20.76" textLength="41.02" lengthAdjust="spacingAndGlyphs">Ripple</tspan></text>
<text y="532" font-size="12" font-family="'DejaVu Sans','Liberation Sans',sans-serif" font-weight="bold" fill="#111" xml:space="preserve" ><tspan x="20.77" textLength="52.09" lengthAdjust="spacingAndGlyphs">(Case2)</tspan></text>
</g>
<g id="chart">
<rect x="656.0" y="323.0" width="232.0" height="190.0" fill="#fff"/>
<g stroke="#efefef" stroke-width="1">
<line x1="667.6" y1="323.0" x2="667.6" y2="513.0"/>
<line x1="674.4" y1="323.0" x2="674.4" y2="513.0"/>
<line x1="679.3" y1="323.0" x2="679.3" y2="513.0"/>
<line x1="683.0" y1="323.0" x2="683.0" y2="513.0"/>
<line x1="686.1" y1="323.0" x2="686.1" y2="513.0"/>
<line x1="688.7" y1="323.0" x2="688.7" y2="513.0"/>
<line x1="690.9" y1="323.0" x2="690.9" y2="513.0"/>
<line x1="692.9" y1="323.0" x2="692.9" y2="513.0"/>
<line x1="706.3" y1="323.0" x2="706.3" y2="513.0"/>
<line x1="713.1" y1="323.0" x2="713.1" y2="513.0"/>
<line x1="717.9" y1="323.0" x2="717.9" y2="513.0"/>
<line x1="721.7" y1="323.0" x2="721.7" y2="513.0"/>
<line x1="724.8" y1="323.0" x2="724.8" y2="513.0"/>
<line x1="727.3" y1="323.0" x2="727.3" y2="513.0"/>
<line x1="729.6" y1="323.0" x2="729.6" y2="513.0"/>
<line x1="731.6" y1="323.0" x2="731.6" y2="513.0"/>
<line x1="745.0" y1="323.0" x2="745.0" y2="513.0"/>
<line x1="751.8" y1="323.0" x2="751.8" y2="513.0"/>
<line x1="756.6" y1="323.0" x2="756.6" y2="513.0"/>
<line x1="760.4" y1="323.0" x2="760.4" y2="513.0"/>
<line x1="763.4" y1="323.0" x2="763.4" y2="513.0"/>
<line x1="766.0" y1="323.0" x2="766.0" y2="513.0"/>
<line x1="768.3" y1="323.0" x2="768.3" y2="513.0"/>
<line x1="770.2" y1="323.0" x2="770.2" y2="513.0"/>
<line x1="783.6" y1="323.0" x2="783.6" y2="513.0"/>
<line x1="790.4" y1="323.0" x2="790.4" y2="513.0"/>
<line x1="795.3" y1="323.0" x2="795.3" y2="513.0"/>
<line x1="799.0" y1="323.0" x2="799.0" y2="513.0"/>
<line x1="802.1" y1="323.0" x2="802.1" y2="513.0"/>
<line x1="804.7" y1="323.0" x2="804.7" y2="513.0"/>
<line x1="806.9" y1="323.0" x2="806.9" y2="513.0"/>
<line x1="808.9" y1="323.0" x2="808.9" y2="513.0"/>
<line x1="822.3" y1="323.0" x2="822.3" y2="513.0"/>
<line x1="829.1" y1="323.0" x2="829.1" y2="513.0"/>
<line x1="833.9" y1="323.0" x2="833.9" y2="513.0"/>
<line x1="837.7" y1="323.0" x2="837.7" y2="513.0"/>
<line x1="840.8" y1="323.0" x2="840.8" y2="513.0"/>
<line x1="843.3" y1="323.0" x2="843.3" y2="513.0"/>
<line x1="845.6" y1="323.0" x2="845.6" y2="513.0"/>
<line x1="847.6" y1="323.0" x2="847.6" y2="513.0"/>
<line x1="861.0" y1="323.0" x2="861.0" y2="513.0"/>
<line x1="867.8" y1="323.0" x2="867.8" y2="513.0"/>
<line x1="872.6" y1="323.0" x2="872.6" y2="513.0"/>
<line x1="876.4" y1="323.0" x2="876.4" y2="513.0"/>
<line x1="879.4" y1="323.0" x2="879.4" y2="513.0"/>
<line x1="882.0" y1="323.0" x2="882.0" y2="513.0"/>
<line x1="884.3" y1="323.0" x2="884.3" y2="513.0"/>
<line x1="886.2" y1="323.0" x2="886.2" y2="513.0"/>
</g>
<g stroke="#d6d6d6" stroke-width="1.2">
<line x1="694.7" y1="323.0" x2="694.7" y2="513.0"/>
<line x1="733.3" y1="323.0" x2="733.3" y2="513.0"/>
<line x1="772.0" y1="323.0" x2="772.0" y2="513.0"/>
<line x1="810.7" y1="323.0" x2="810.7" y2="513.0"/>
<line x1="849.3" y1="323.0" x2="849.3" y2="513.0"/>
<line x1="656.0" y1="481.3" x2="888.0" y2="481.3"/>
<line x1="656.0" y1="449.7" x2="888.0" y2="449.7"/>
<line x1="656.0" y1="418.0" x2="888.0" y2="418.0"/>
<line x1="656.0" y1="386.3" x2="888.0" y2="386.3"/>
<line x1="656.0" y1="354.7" x2="888.0" y2="354.7"/>
</g>
<g clip-path="url(#plotclip)" fill="none" stroke-linejoin="round" stroke-linecap="round" stroke-width="2.8">
<polyline stroke="#5b9bd5" points="656,378 658,372 660,366 662.5,372 665,362 667.6,357 669.3,345.6 671,357 672.8,361 674.5,357 676.6,354 679,362 681,358 684,364 687,360 689.5,365 692,363 694.4,360 696,343 697.7,360 699.6,366 701.5,364 703.2,361.5 705.5,368 707.5,362 709,356 710.5,358 711.8,363 713.5,360.5 715,360 716.5,364 718,368 720.7,371 722.5,367 724,365.5 726.5,365 729,362 731,364 732.5,366 735,361.5 737.5,366.5 740.5,361.5 743.5,366.5 747.3,364 750,365 753.4,366.5 756,368 758,369 760,366 762.5,358 764.3,350 765.6,346.5 767,351 768.5,356 770,358 772,360.5 774.6,365 776,366 778,370 780,372 782,375.6 783.7,377.5 789.8,386 795,392.5 800.4,398.6 805,403 809.5,406.8 815,409.3 820,409.8 825,408 830.8,404.5 835,402.3 840,400 845,398.2 849,397.2 852,396.7 854.4,396.6 856.5,397.5 858.2,399.5 860,403.3 862,408.5 864.3,415.5 866.5,420 868.9,424.3 872,428.5 875,432 878,434.7 879.5,434 881,432.9 882.5,434 884,434.7 886,434.8 888,435.4"/>
<polyline stroke="#ed7d31" points="656,378 657.5,370 659,358 659.9,353.5 660.8,362 661.6,371 662.7,364 663.7,359 664.5,364 665.5,369 667,362 668.5,366 670,372 672,366 674,362 676,368 678,371 680,366 682.7,360.5 684.5,364 686.5,369.5 689,368 692,366 695,368 698,367 700,368.8 703,371 706.3,372.6 709,371 712.4,369.8 715,372 718.4,374.1 722,373.5 726,372.6 730,371.3 733.7,370.3 737,371 741.3,371 744,370 747.3,370.3 752,371.2 756.5,371.8 758.5,369 760.3,363.5 761.7,357 762.9,352.5 764,356 765.6,363.5 767.5,367 770,370.3 773,372.2 776,374 780,376 783.7,377.5 789.8,386 795,392.5 800.4,398.6 805,403 809.5,406.8 815,409.6 820,410.3 825,408.8 829.3,406 831.5,403.5 833,400.7 834.4,397.7 835.4,396.3 836.4,397.8 837.7,401.5 839,406 840.7,412 842.5,417.5 844.5,422.8 846.5,426 849,428.9 852,431.7 855.2,434.2 858,436.4 861.3,438.8 865,441.4 868.9,444 872,446.4 875,448.7 877,451 878.7,454 880,453.6 881,453.2 882.3,457 884,463.9 885.5,469.5 887,476 888,480"/>
<polyline stroke="#a5a5a5" points="656,384 657.5,378 659,382 660.5,372 662,378 663.5,366 665,372 666.5,360 668,355 669.5,366 671,374 672.5,362 674,356 675.5,354 677,362 678.5,370 680,364 682,368 684,372 686,368 688,372 690,370 692,366 694,369 696,367 698,370 701,372 704,373 707,372.3 710,371 713,373 716,374.5 719,375.3 722,374.5 726,373.5 730,372.3 734,371.8 738,372 742,372 746,371.6 750,372 754,372.8 757,373 759.5,371 761.5,366 763.2,361 764.8,366 766.5,373 768,377.5 770,380.5 774,383 779,385.5 783.5,388.5 788,392.4 792.8,397.5 797.4,403 802,408.8 806.5,413.5 809.5,416.7 815,420.3 820,422.8 825.5,425 830.8,426.6 834,427.3 836.9,427.4 839.5,426.6 841.5,425 843.5,422.3 845.3,418.3 846.8,412.5 848.3,406 849.4,411 850.6,416.7 852,422 853.7,427.4 856,432.3 858.2,436.5 861,441 864.3,445.6 867.5,450 870.4,454 873.5,457.5 876.5,460.8 879.5,463.9 881,466"/>
<polyline stroke="#ffc000" points="656,390 657.5,393 659,395 659.9,395.4 661,391 662,387.8 663.5,384 665.2,381 667,382.5 668.5,379 669.8,377 672,378 674.3,375.6 677,378 680.4,377 683,378.5 685.5,376 688,374 690.5,376 692.5,378.5 694,377 696.5,373 698.7,371.5 700.5,374 702.5,376.4 706,377.5 710.8,378.7 714.5,380 718.4,381 722,379 726,377 730.5,376 735,375.6 740,376 744.3,375.6 749,376 753.4,376.4 757.5,376 761,375.6 762.5,377.5 764,380 766,384 767.9,387 770,389 773.5,391.2 777.6,393.9 781.5,397 785.2,400 789,403.8 792.8,407.6 797.5,412.3 802,416.7 806.5,421 811,425 815.5,428.3 820,431.2 825,433.7 829.3,435.7 833,437.1 836.9,438 839.5,438 841.5,437.3 843.5,435.8 845.3,433.5 846.5,430.5 847.6,426.6 848.3,423.5 849,422 850.1,425 851.4,428.9 852.5,432.8 853.7,436.5 855.5,441.8 857.5,447 860,452.5 862.8,457.8 865.5,462 868,466 870.5,468.8 872.7,470.7 874.6,471.2 876.5,470.7 877.8,470.2 878.7,469.2 879.3,463 880.3,454.7 881.1,453.2 881.8,453.4 882.5,456.5 883.3,460.8 884.4,466 885.6,471.5 886.5,475.5 887.4,479.8 888,482"/>
</g>
<rect x="656.0" y="323.0" width="232.0" height="190.0" fill="none" stroke="#262626" stroke-width="1.6"/>
<ellipse cx="838" cy="416" rx="44.6" ry="29" transform="rotate(53 838 416)" fill="none" stroke="#cc1020" stroke-width="2.9"/>
<line x1="684.6" y1="463.0" x2="712.4" y2="463.0" stroke="#5b9bd5" stroke-width="3.1" stroke-linecap="round"/>
<text x="721.5" y="467.2" font-size="12" font-family="'Liberation Sans',sans-serif" fill="#595959">I<tspan font-size="8" dy="2.2">OUT</tspan><tspan dy="-2.2">=1mA</tspan></text>
<line x1="684.6" y1="476.9" x2="712.4" y2="476.9" stroke="#ed7d31" stroke-width="3.1" stroke-linecap="round"/>
<text x="721.5" y="481.1" font-size="12" font-family="'Liberation Sans',sans-serif" fill="#595959">I<tspan font-size="8" dy="2.2">OUT</tspan><tspan dy="-2.2">=20mA</tspan></text>
<line x1="684.6" y1="490.7" x2="712.4" y2="490.7" stroke="#a5a5a5" stroke-width="3.1" stroke-linecap="round"/>
<text x="721.5" y="494.9" font-size="12" font-family="'Liberation Sans',sans-serif" fill="#595959">I<tspan font-size="8" dy="2.2">OUT</tspan><tspan dy="-2.2">=100mA</tspan></text>
<line x1="684.6" y1="504.6" x2="712.4" y2="504.6" stroke="#ffc000" stroke-width="3.1" stroke-linecap="round"/>
<text x="721.5" y="508.8" font-size="12" font-family="'Liberation Sans',sans-serif" fill="#595959">I<tspan font-size="8" dy="2.2">OUT</tspan><tspan dy="-2.2">=250mA</tspan></text>
<text x="645" y="516.6" font-size="11.5" font-family="'Liberation Sans',sans-serif" fill="#595959" text-anchor="end">0</text>
<text x="645" y="484.9" font-size="11.5" font-family="'Liberation Sans',sans-serif" fill="#595959" text-anchor="end">20</text>
<text x="645" y="453.3" font-size="11.5" font-family="'Liberation Sans',sans-serif" fill="#595959" text-anchor="end">40</text>
<text x="645" y="421.6" font-size="11.5" font-family="'Liberation Sans',sans-serif" fill="#595959" text-anchor="end">60</text>
<text x="645" y="389.9" font-size="11.5" font-family="'Liberation Sans',sans-serif" fill="#595959" text-anchor="end">80</text>
<text x="645" y="358.3" font-size="11.5" font-family="'Liberation Sans',sans-serif" fill="#595959" text-anchor="end">100</text>
<text x="645" y="326.6" font-size="11.5" font-family="'Liberation Sans',sans-serif" fill="#595959" text-anchor="end">120</text>
<text x="656.0" y="531.2" font-size="11.8" font-family="'Liberation Sans',sans-serif" fill="#595959" text-anchor="middle">0.01</text>
<text x="694.7" y="531.2" font-size="11.8" font-family="'Liberation Sans',sans-serif" fill="#595959" text-anchor="middle">0.1</text>
<text x="733.3" y="531.2" font-size="11.8" font-family="'Liberation Sans',sans-serif" fill="#595959" text-anchor="middle">1</text>
<text x="772.0" y="531.2" font-size="11.8" font-family="'Liberation Sans',sans-serif" fill="#595959" text-anchor="middle">10</text>
<text x="810.7" y="531.2" font-size="11.8" font-family="'Liberation Sans',sans-serif" fill="#595959" text-anchor="middle">100</text>
<text x="849.3" y="531.2" font-size="11.8" font-family="'Liberation Sans',sans-serif" fill="#595959" text-anchor="middle">1000</text>
<text x="888.0" y="531.2" font-size="11.8" font-family="'Liberation Sans',sans-serif" fill="#595959" text-anchor="middle">10000</text>
<text y="549.4" font-size="12.1" font-family="'Liberation Sans',sans-serif" fill="#595959" xml:space="preserve" ><tspan x="727.34" textLength="56.66" lengthAdjust="spacingAndGlyphs">Frequency</tspan> <tspan x="787.61" textLength="28.91" lengthAdjust="spacingAndGlyphs">[kHz]</tspan></text>
<text transform="translate(617.6,418.4) rotate(-90)" font-size="12.1" font-family="'Liberation Sans',sans-serif" fill="#595959" text-anchor="middle" textLength="133.5" lengthAdjust="spacingAndGlyphs">Ripple Rejection RR [dB]</text>
<text y="302" font-size="14" font-family="'Liberation Sans',sans-serif" fill="#262626" xml:space="preserve" ><tspan x="670.40" y="302" textLength="90.34" lengthAdjust="spacingAndGlyphs">RP122x281x,</tspan> <tspan x="766.51" y="302" textLength="11.01" lengthAdjust="spacingAndGlyphs">V</tspan><tspan x="777.82" font-size="8.6" y="302.6" font-weight="bold" textLength="8.67" lengthAdjust="spacingAndGlyphs">IN</tspan> <tspan x="789.58" y="302" textLength="9.63" lengthAdjust="spacingAndGlyphs">=</tspan> <tspan x="802.23" y="302" textLength="19.54" lengthAdjust="spacingAndGlyphs">3.8</tspan> <tspan x="825.81" y="302" textLength="11.01" lengthAdjust="spacingAndGlyphs">V</tspan></text>
</g>
<g id="footer">
<text y="572" font-size="13.3" font-family="'DejaVu Sans','Liberation Sans',sans-serif" font-weight="bold" fill="#1818a8" xml:space="preserve" ><tspan x="5.36" textLength="80.34" lengthAdjust="spacingAndGlyphs">Difference</tspan> <tspan x="89.85" textLength="65.62" lengthAdjust="spacingAndGlyphs">between</tspan> <tspan x="161.80" textLength="26.87" lengthAdjust="spacingAndGlyphs">the</tspan> <tspan x="192.79" textLength="57.87" lengthAdjust="spacingAndGlyphs">voltage</tspan> <tspan x="255.47" textLength="15.23" lengthAdjust="spacingAndGlyphs">at</tspan> <tspan x="275.26" textLength="39.04" lengthAdjust="spacingAndGlyphs">reset</tspan> <tspan x="319.83" textLength="29.81" lengthAdjust="spacingAndGlyphs">and</tspan> <tspan x="354.06" textLength="24.31" lengthAdjust="spacingAndGlyphs">the</tspan> <tspan x="384.19" textLength="58.48" lengthAdjust="spacingAndGlyphs">voltage</tspan> <tspan x="447.06" textLength="15.65" lengthAdjust="spacingAndGlyphs">at</tspan> <tspan x="467.21" textLength="36.02" lengthAdjust="spacingAndGlyphs">read</tspan> <tspan x="507.44" textLength="53.58" lengthAdjust="spacingAndGlyphs">affects</tspan> <tspan x="565.80" textLength="24.84" lengthAdjust="spacingAndGlyphs">the</tspan> <tspan x="595.79" textLength="52.85" lengthAdjust="spacingAndGlyphs">quality</tspan> <tspan x="654.39" textLength="14.60" lengthAdjust="spacingAndGlyphs">of</tspan> <tspan x="673.80" textLength="53.99" lengthAdjust="spacingAndGlyphs">image.</tspan></text>
<text y="588" font-size="13.3" font-family="'DejaVu Sans','Liberation Sans',sans-serif" font-weight="bold" fill="#111" xml:space="preserve" ><tspan x="5.93" textLength="44.17" lengthAdjust="spacingAndGlyphs">Term:</tspan> <tspan x="54.33" textLength="36.14" lengthAdjust="spacingAndGlyphs">CDS:</tspan> <tspan x="93.85" textLength="75.74" lengthAdjust="spacingAndGlyphs">Correlated</tspan> <tspan x="172.91" textLength="55.56" lengthAdjust="spacingAndGlyphs">Double</tspan> <tspan x="233.07" textLength="70.08" lengthAdjust="spacingAndGlyphs">Sampling</tspan></text>
</g>
</svg></body></html>
